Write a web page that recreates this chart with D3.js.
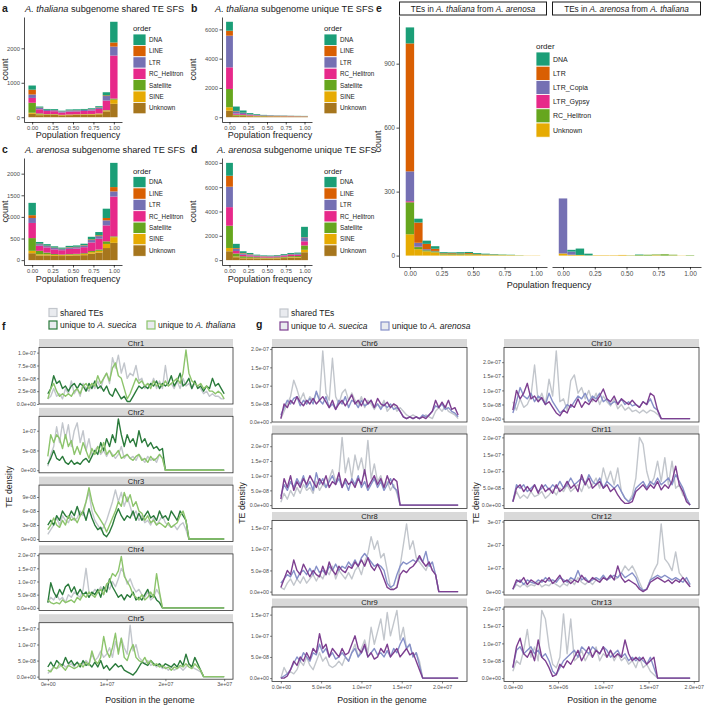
<!DOCTYPE html>
<meta charset="utf-8">
<title>TE site frequency spectra and TE density</title>
<style>
body { margin: 0; background: #fff; }
svg { display: block; }
text { font-family: "Liberation Sans", Arial, Helvetica, sans-serif; }
.axis path, .axis line { stroke: #000; stroke-width: 0.7px; }
.axis text { fill: #4d4d4d; }
.faxis path { display: none; }
.faxis line { stroke: #333; stroke-width: 0.6px; }
.faxis text { fill: #4d4d4d; }
</style>
<svg width="705" height="705"></svg>
<script src="https://d3js.org/d3.v7.min.js"></script>
<script>
// ---------- panels a-d : SFS histograms ----------
var sfsOrders = ["DNA", "LINE", "LTR", "RC_Helitron", "Satellite", "SINE", "Unknown"];
var sfsColors = ["#1b9e77", "#d95f02", "#7570b3", "#e7298a", "#66a61e", "#e6ab02", "#a6761d"];
var sfsBins = [0, 0.091, 0.182, 0.273, 0.364, 0.455, 0.545, 0.636, 0.727, 0.818, 0.909, 1];
var freqTicks = [0, 0.25, 0.5, 0.75, 1];

// rows = frequency bins, columns = sfsOrders
var thalShared = [
  [120, 140, 100, 140, 290, 30, 100],
  [30, 10, 40, 120, 30, 20, 60],
  [25, 5, 30, 90, 10, 15, 65],
  [25, 5, 30, 85, 10, 15, 65],
  [20, 5, 25, 70, 5, 10, 55],
  [25, 5, 30, 85, 5, 15, 60],
  [25, 5, 30, 85, 5, 15, 65],
  [25, 5, 30, 90, 5, 15, 70],
  [25, 5, 35, 100, 5, 15, 75],
  [30, 10, 40, 130, 5, 20, 85],
  [90, 20, 130, 280, 10, 25, 170],
  [600, 120, 260, 1250, 30, 120, 390]
];
var thalUnique = [
  [610, 340, 2160, 1480, 1250, 230, 450],
  [300, 30, 150, 80, 60, 30, 80],
  [150, 20, 80, 60, 40, 30, 80],
  [80, 10, 40, 40, 20, 20, 70],
  [50, 10, 30, 30, 10, 20, 60],
  [30, 5, 20, 20, 10, 15, 60],
  [20, 5, 20, 20, 5, 15, 55],
  [15, 5, 15, 15, 5, 15, 55],
  [15, 5, 15, 15, 5, 15, 50],
  [10, 5, 10, 15, 5, 10, 50],
  [10, 5, 10, 10, 5, 10, 45],
  [10, 5, 10, 10, 5, 10, 40]
];
var areShared = [
  [285, 65, 115, 350, 295, 55, 160],
  [40, 10, 35, 120, 80, 25, 110],
  [35, 10, 30, 120, 40, 25, 110],
  [30, 10, 30, 110, 20, 20, 100],
  [25, 10, 25, 100, 15, 20, 95],
  [30, 10, 30, 120, 15, 20, 105],
  [30, 10, 30, 125, 15, 20, 110],
  [35, 10, 35, 140, 20, 25, 115],
  [60, 15, 55, 200, 25, 35, 150],
  [75, 20, 60, 250, 30, 40, 175],
  [215, 55, 115, 370, 60, 95, 280],
  [560, 100, 120, 920, 20, 130, 400]
];
var areUnique = [
  [1060, 900, 1680, 1530, 1830, 270, 730],
  [350, 60, 180, 200, 250, 60, 240],
  [150, 40, 100, 120, 130, 40, 150],
  [100, 30, 70, 100, 100, 40, 150],
  [60, 20, 50, 80, 70, 30, 140],
  [50, 20, 40, 70, 50, 30, 130],
  [50, 15, 40, 70, 50, 30, 125],
  [55, 15, 45, 75, 55, 35, 140],
  [65, 20, 50, 90, 65, 40, 170],
  [80, 25, 60, 100, 80, 45, 200],
  [90, 25, 65, 105, 80, 45, 210],
  [840, 20, 330, 340, 360, 200, 650]
];

// ---------- panel e ----------
var eOrders = ["DNA", "LTR", "LTR_Copia", "LTR_Gypsy", "RC_Helitron", "Unknown"];
var eColors = ["#1b9e77", "#d95f02", "#7570b3", "#e7298a", "#66a61e", "#e6ab02"];
var eBins = [0, 0.067, 0.133, 0.2, 0.267, 0.333, 0.4, 0.467, 0.533, 0.6, 0.667, 0.733, 0.8, 0.867, 0.933, 1];
var eTicks = [0, 300, 600, 900];
var eThalFromAre = [
  [75, 600, 140, 5, 150, 100],
  [18, 95, 18, 2, 10, 30],
  [15, 25, 5, 0, 5, 20],
  [12, 10, 2, 0, 5, 15],
  [5, 3, 0, 0, 3, 5],
  [4, 4, 0, 0, 3, 4],
  [6, 3, 0, 0, 3, 4],
  [5, 4, 0, 0, 3, 5],
  [4, 2, 0, 0, 3, 3],
  [3, 1, 0, 0, 2, 3],
  [2, 1, 0, 0, 2, 2],
  [1, 0, 0, 0, 2, 2],
  [1, 0, 0, 0, 1, 2],
  [0, 0, 0, 0, 1, 1],
  [0, 0, 0, 0, 0, 1],
  [0, 0, 0, 0, 0, 1]
];
var eAreFromThal = [
  [0, 0, 258, 0, 0, 10],
  [8, 0, 15, 0, 0, 4],
  [30, 0, 0, 0, 0, 3],
  [8, 0, 0, 0, 0, 1],
  [0, 0, 0, 0, 0, 2],
  [0, 0, 0, 0, 0, 2],
  [0, 0, 0, 0, 0, 2],
  [0, 0, 0, 0, 0, 3],
  [0, 0, 0, 0, 1, 1],
  [2, 0, 0, 0, 3, 0],
  [0, 0, 0, 0, 4, 0],
  [0, 0, 0, 0, 3, 2],
  [0, 0, 0, 0, 6, 0],
  [0, 0, 0, 0, 3, 1],
  [0, 0, 0, 0, 0, 1],
  [0, 0, 0, 0, 2, 0]
];

// ---------- panels f, g : TE density (units of 1e-8), [shared, unique A. suecica, unique other] ----------
var fStep = 5e5, gStep = 4e5;
var fChroms = ["Chr1", "Chr2", "Chr3", "Chr4", "Chr5"];
var g1Chroms = ["Chr6", "Chr7", "Chr8", "Chr9"];
var g2Chroms = ["Chr10", "Chr11", "Chr12", "Chr13"];

var chr1 = [
  [1,1.5,3,1.5,2,1,3,2,4.5,2, 3,1.5,4,3,2.5,4,3,4.5,3,5, 6,4,9,7,9.5,6,8,5,6,5.5, 7.5,4.5,5,3,4,3.5,5,3,4.5,3, 7.5,3.5,4,3,4.5,3,5,3.5,4,3, 4,3.5,3,2,2.5,1.5,2,1.5,1.5,1, 1],
  [2,3,5.5,4,4.5,3,3.5,2.5,3.5,4, 3,4,3.5,2.5,4,3,4.5,3,3.5,2.5, 3.5,2,1.5,3,2,1,1.5,0.5,0.5,1.5, 2.5,3.5,3,3.5,3,4,3.5,4.5,3,4, 3.5,4,5.5,3.5,4.5,6,3.5,4,5,3, 4.5,3,3.5,2.5,3.5,3,5,3.5,4,3, 2],
  [1,3,4,2.5,1.5,2,1.5,2,1.5,2.5, 3,2,3.5,4,3,4,3.5,5.5,4,5, 6,4.5,7,8,5.5,5,3,1,2,3.5, 5,4,4.5,3.5,4,3,4.5,3.5,4,3.5, 4.5,3.5,4,4.5,5,4,6,10.5,6,4.5, 4,3.5,4,3,3.5,2.5,2.5,2,2.5,2, 1]
];
var chr2 = [
  [1,4,6,11,7,12,8,11.5,6,10, 12,7,10,5,8,4,5,6,4,5, 3.5,5,4,3,4,6,3,4,3,3.5, 2.5,4,3,2,3.5,2.5,3,2,4,3, 0,0,0,0,0,0,0,0,0,0, 0,0,0,0,0,0,0,0,0,0, 0],
  [1.5,3,5,3,2.5,3.5,2,1.5,2.5,1.5, 2,1.5,2.5,3,2,3.5,5,4,7,5, 8,6,9,7,13,9,6,9,7,8, 6,10,7,8,6,7,5.5,6,5,5.5, 0,0,0,0,0,0,0,0,0,0, 0,0,0,0,0,0,0,0,0,0, 0],
  [3.5,9,7,9,8,5.5,9,6,7.5,4, 6,4,7,5,3,5.5,4,6,4.5,7, 4,5,3.5,4,5,3,3.5,4,3,2.5, 3.5,4,2.5,3,2,3.5,2.5,3,4,3, 0,0,0,0,0,0,0,0,0,0, 0,0,0,0,0,0,0,0,0,0, 0]
];
var chr3 = [
  [1,2,3,4.5,3,5,4,3.5,5,4, 4.5,6,5,8,10,6,4,3,2,2.5, 4,6,8,10.5,8,10,7,9,7,5, 6,4,5,3.5,4,3,4.5,3,4,5, 3.5,3,2.5,3,2,3,3.5,2, 0,0,0,0,0,0,0,0,0,0,0,0,0],
  [3,4,3,5,4,6,5,4.5,6,5, 7,5,6,4,6.5,4.5,3,2,2.5,1, 0.5,1.5,3,5,6.5,5,4,5,4.5,6, 4,5.5,4,5,6,4.5,5,4,6,4.5, 5,4,6,5,4,6,5,4, 0,0,0,0,0,0,0,0,0,0,0,0,0],
  [2,3,4.5,3,2.5,4,3,5,4,4.5, 3.5,5,6,8,11,8,6,5,4,3, 1.5,3,4.5,6,8,7,10,8,9.5,7, 8,6,5.5,4,5,3.5,4,3,3.5,3, 2.5,3.5,2.5,3,3.5,5,6,4, 0,0,0,0,0,0,0,0,0,0,0,0,0]
];
var chr4 = [
  [2,4,3,5,3,4,2,5,4,6, 5,4,7,15,6,5,7,6,8,5, 9,7,10,8,11,15,13,9,11,8, 6,7,5,4,6,3,4,7,5, 0,0,0,0,0,0,0,0,0,0,0, 0,0,0,0,0,0,0,0,0,0,0],
  [2,9.5,6,4,7,5,8,9,6,8, 5,7,5,6,4,6,5,7,4,8, 6,11,8,6,4,5,3,5,4,6, 3,4,3,5,7,4,5,3,2, 0,0,0,0,0,0,0,0,0,0,0, 0,0,0,0,0,0,0,0,0,0,0],
  [3,2,1.5,2,1.5,3,2,2.5,3,2, 4,3,5,4,6,5,4,6,7,5, 9,10,13,12,14,19.5,12,10,8,5, 4,3,5,3,4,6,4,13,6, 0,0,0,0,0,0,0,0,0,0,0, 0,0,0,0,0,0,0,0,0,0,0]
];
var chr5 = [
  [1,2,3,2.5,3,4,3,3.5,4,3, 4.5,3.5,4,5,4,7,5,6,8,6, 7,9,6,11,8,12,9,7,16,8, 10,6,5,4,5,3.5,4,3,3.5,2.5, 3,2,3,2,2.5,3,2,3,4,3, 2.5,2,1.5, 0,0,0,0,0,0,0,0],
  [3,4.5,3,5,4,3.5,6,4,5,3.5, 4.5,3,5,3.5,4,3,4.5,3,5,2.5, 3.5,2,3,4,3,3.5,2,1.5,1,0.5, 1.5,3,4.5,4,3.5,5,4,3.5,4,3, 4,3.5,3,4,3,5,3.5,7,4,3, 6,4,2, 0,0,0,0,0,0,0,0],
  [2,1.5,3,2.5,4,3,2,3.5,3,2.5, 3,4,3,4.5,3.5,8,5,4,6,12.5, 8,6,9,13.5,7,12,6,5,8,10, 6,5,4.5,6,4,5,3.5,4,3,3.5, 2.5,3,2,3,2.5,3.5,3,4,3,2.5, 4,3,2, 0,0,0,0,0,0,0,0]
];
var chr6 = [
  [1,3,5,7,11.5,9,6,8,5,7, 6,8,6,19.5,8,6,17.5,7,5,8, 9,6,8,6,5,7,4,6,5,3.5, 5,4,6,3,4,5,3,4,3,2, 1.5,2,1.5,1,1.5,2,1.5,1,3,4, 3,4.5,3,2.5,2,1],
  [1,5,4,6,5,7,5.5,4.5,6,5, 6.5,5,6,7,5.5,4,6,3.5,5,6, 4.5,6,7.5,5,6,4.5,6.5,5,6,4, 6.5,5,4.5,5.5,4,5,4.5,3,1.5,1, 1.5,1,1.5,1,1.5,1,2,3,6,4, 5.5,4,6,3.5,4,2],
  [2,4,6,5,6.5,7,4.5,6,5,6.5, 5,8.5,6,5,7,4,5,3.5,6,5, 7,4,6,5.5,4,6,4.5,5,6,4, 5,3.5,5,4,5,3.5,4,3,1.5,1, 1.5,1,1.5,1,2,1.5,2,3,4.5,4, 5,3.5,4,3,2.5,1.5]
];
var chr7 = [
  [1,4,2,5,3,6,4,7,5,6, 4,8,5,7,6,9,12,8,10,23, 11,16,9,17,12,16,10,22,9,14, 8,10,6,8,5,7,4, 0,0,0,0,0,0,0,0,0,0, 0,0,0,0,0,0,0,0,0],
  [2,9,6,10,5,8,6,9,7,10, 8,6,9,7,10,6,8,7,11,6, 9,7,8,6,9,7,12,6,8,10, 7,9,6,10,7,9,8, 0,0,0,0,0,0,0,0,0,0, 0,0,0,0,0,0,0,0,0],
  [3,7,5,8,6,9,7,10,6,8, 5,11,7,9,6,8,10,7,9,6, 8,5,9,7,10,6,8,5,7,9, 6,8,5,7,9,6,5, 0,0,0,0,0,0,0,0,0,0, 0,0,0,0,0,0,0,0,0]
];
var chr8 = [
  [1,0.5,2,3,1.5,3,2,3.5,2,3, 4,2.5,4,3,5,4,6,3,5,4, 3,4.5,3,5,6,4,7,9,13,10, 12,8,9,5,1,0.5,1,6,11,16, 10,12,8,7,6,5,7,5,4, 0,0,0,0,0,0,0],
  [1,3,5,4,7.5,5,4,6.5,5,3.5, 5,4,3.5,6,4,7,5,4,6,5, 4.5,6,5.5,7,6,7.5,6,8,6,5, 6.5,5,3,1,0.5,0.5,1,4,5,4.5, 5.5,6,7,8.5,7,6,7,5,4, 0,0,0,0,0,0,0],
  [2,3,4,3.5,5,3,4.5,5,4,5.5, 4,6,4.5,5,4,6,5,6.5,5,6, 5.5,7,6,7.5,6,8,9,8,7,6, 6.5,6,5,2,1,1.5,4,6,7,6.5, 7,7.5,7,8,7,9.5,6,7,4, 0,0,0,0,0,0,0]
];
var chr9 = [
  [0,2.5,1,1.5,1,2,4,3,5,3, 2,4,6,4,5,3,2.5,3,4,3, 5,4,6,8,5,7,9,6,12,8, 11,14,9,15.5,10,13,16,9,12,7, 8,5,6,4, 0,0,0,0,0,0,0,0,0,0,0,0],
  [0,0,0.5,2,4,3,5,4,6,4.5, 7,6,10.5,7,8,5,7,6,5,7, 5.5,6,8,10,7,6,8,5,6,4.5, 5,7,6,8,5,6,7,5,6,7, 5.5,6,4,2, 0,0,0,0,0,0,0,0,0,0,0,0],
  [0,0.5,1,2,3.5,5,4,6,5,4, 6,5.5,8,6,7,5,6,4.5,5,6, 5,4,6,7,5,6,7.5,5,6,7, 5.5,6,5,6.5,5,7,6,8,9.5,7, 8,5,6,3, 0,0,0,0,0,0,0,0,0,0,0,0]
];
var chr10 = [
  [6,3,7,4,5,8,19,6,9,5, 14,8,24,6,7,3,13.5,15.5,9,11, 7,10,6,9,5,8,6,4.5,7,3.5, 5,3,4,2.5,3,2,3,2,3,2.5, 1.5, 0,0,0,0,0,0,0,0,0],
  [3,10,7,9,12.5,7,8,6,7.5,5, 6,4,2,1,3,2,5,4,7,4, 6,5,7,6,8,10.5,7,6,8,5, 7,6,5,6.5,5,4,6,5,9,8, 3, 0,0,0,0,0,0,0,0,0],
  [2,6,11,8,7,9,6,8,7,5, 9,6,4,2,3,5,4,6,8,7, 9,6,8,7,9,6,7,5,6,5.5, 7,5,6,4.5,5,4,6,5,7,4, 3, 0,0,0,0,0,0,0,0,0]
];
var chr11 = [
  [1,4,2,3,2,4,2.5,3,4,2, 3,4.5,3,5,4,6,4,5,6,4, 7,5,6,8,5,11,7,10,6,11, 4,2,1,3,8,20,18,10,6,8, 13,7,14,6,13,5,6,3,2, 0],
  [1,5,6,4,5.5,4,6,3.5,6,4, 5,3.5,6,4,5,7,5,6,4,9, 6,8,5,6,7,5,6,4,5,3, 1.5,0.5,0.5,1,4,5,6,4.5,6,5, 7,4.5,6,5,7,11.5,6,4,1, 0],
  [1,6,5,6,4,5,6,4,5,6, 4.5,6,5,7,5,6,8,6,7,8, 6,9,7,6,8,5,7,6,5,6, 4,2,1,2,5,6,7,5,7,6, 8,6,7,8,6,9,7,5,2, 0]
];
var chr12 = [
  [1,3,2,3.5,2,3,2.5,4,2,3, 2.5,4,3,2,3.5,2.5,5,3,6,4, 3,4.5,3,5,4,6,5,7,5,6, 8,11,9,11,8,4,0.5,1,5,9, 12,29,14,12,9,17,8,6,4,2],
  [1,5,4,6,3,5,4,3,5,4, 6,3.5,5,7,4,5,3.5,5,4,7, 5,4,6,5,4,6,5,7,5,11, 6,4,5,4,3,1,0,1,4,5, 6,5,4,5,3.5,5,4,6,4,2],
  [1,4,5,3,5,4,3.5,5,4,6, 4.5,5,4,6,5,4,6,5,9,5, 6,4,5,6,5,7,5,6,7,6, 8,6,7,8,6,2,0.5,1,5,6, 7,6,7,6,5,6,5,4,6,3]
];
var chr13 = [
  [2,5,4,8,14,6,9,5,19.5,17, 9,4,3,6,18.5,7,17,5,6,8, 5,7,6,9,5,7,6,8,5,7, 5,6,4,5,3,6,3,4,2,1, 0,0,0,0,0,0,0,0,0,0],
  [3,9,11.5,7,6,8,5,11,6,5, 3,0.5,1,4,3,5,4,6,8,5, 7,9,6,8,7,9,6,8,6,7, 6,11,7,5,6,5,6,4,5,6, 0,0,0,0,0,0,0,0,0,0],
  [3,8,9,7,8,9,7,8,6,7, 5,2,1,3,5,6,7,8,6,9, 8,7,9,8,7,9,8,6,7,8, 6,7,5,6,5,6,5,4,6,3, 0,0,0,0,0,0,0,0,0,0]
];

var fYTicks = [[0, 2.5e-8, 5e-8, 7.5e-8, 1e-7], [0, 5e-8, 1e-7], [0, 3e-8, 6e-8, 9e-8],
               [0, 5e-8, 1e-7, 1.5e-7, 2e-7], [0, 5e-8, 1e-7, 1.5e-7]];
var g1YTicks = [[0, 5e-8, 1e-7, 1.5e-7, 2e-7], [0, 5e-8, 1e-7, 1.5e-7, 2e-7],
                [0, 5e-8, 1e-7, 1.5e-7], [0, 5e-8, 1e-7, 1.5e-7]];
var g2YTicks = [[0, 5e-8, 1e-7, 1.5e-7, 2e-7], [0, 5e-8, 1e-7, 1.5e-7, 2e-7],
                [0, 1e-7, 2e-7, 3e-7], [0, 5e-8, 1e-7, 1.5e-7, 2e-7]];
var fXTicks = [0, 1e7, 2e7, 3e7];
var gXTicks = [0, 5e6, 1e7, 1.5e7, 2e7];

var fColors = ["#c2c6cc", "#2a7a3b", "#8cc46b"];
var gColors = ["#c2c6cc", "#7d3f90", "#8690c8"];

var svg = d3.select("svg");

// R-like scientific labels: same number of digits for every tick
function sciLabels(vals) {
  var d = 0;
  while (d < 4 && !vals.every(function(v) { return Math.abs(+v.toExponential(d) - v) <= Math.abs(v) * 1e-9; })) d++;
  return vals.map(function(v) {
    var m = v.toExponential(d).split("e");
    var e = +m[1];
    return m[0] + "e" + (e < 0 ? "-" : "+") + String(Math.abs(e)).padStart(2, "0");
  });
}

function rich(x, y, parts, size, anchor) {
  var t = svg.append("text").attr("x", x).attr("y", y)
      .attr("font-size", size).attr("fill", "#1a1a1a")
      .attr("text-anchor", anchor || "start");
  parts.forEach(function(p) {
    t.append("tspan").text(p[0]).attr("font-style", p[1] ? "italic" : null);
  });
  return t;
}

function label(x, y, s, size, opts) {
  opts = opts || {};
  var t = svg.append("text").attr("x", x).attr("y", y).attr("font-size", size)
      .attr("fill", opts.fill || "#1a1a1a").attr("text-anchor", opts.anchor || "start")
      .attr("font-weight", opts.bold ? "bold" : null).text(s);
  if (opts.rotate) t.attr("transform", "rotate(-90," + x + "," + y + ")");
  return t;
}

// stacked histogram panel
function sfsPanel(p, rows, bins, colors, yMax) {
  var n = bins.length, bw = (bins[n - 1] - bins[0]) / (n - 1);
  var lo = bins[0] - bw / 2, hi = bins[n - 1] + bw / 2, pad = (hi - lo) * 0.05;
  var x = d3.scaleLinear().domain([lo - pad, hi + pad]).range([p.x0, p.x1]);
  var tot = yMax || d3.max(rows, function(r) { return d3.sum(r); });
  var y = d3.scaleLinear().domain([-tot * 0.05, tot * 1.05]).range([p.y1, p.y0]);

  var keys = d3.range(colors.length).reverse();   // first order drawn on top
  var series = d3.stack().keys(keys).value(function(d, k) { return d[k]; })(rows);

  svg.append("g").selectAll("g").data(series).join("g")
      .attr("fill", function(s) { return colors[s.key]; })
    .selectAll("rect").data(function(s) { return s; }).join("rect")
      .attr("x", function(d, i) { return x(bins[i] - bw / 2); })
      .attr("width", x(bw) - x(0))
      .attr("y", function(d) { return y(d[1]); })
      .attr("height", function(d) { return Math.max(0, y(d[0]) - y(d[1])); });

  return { x: x, y: y };
}

function sfsAxes(p, sc, yTicks, fs, noY) {
  if (!noY) {
    svg.append("g").attr("class", "axis").attr("transform", "translate(" + p.x0 + ",0)")
        .call(d3.axisLeft(sc.y).tickValues(yTicks).tickFormat(d3.format("d"))
          .tickSize(2.5).tickPadding(1.5).tickSizeOuter(0))
        .selectAll("text").attr("font-size", fs);
  }
  svg.append("g").attr("class", "axis").attr("transform", "translate(0," + p.y1 + ")")
      .call(d3.axisBottom(sc.x).tickValues(freqTicks).tickFormat(d3.format(".2f"))
        .tickSize(2.5).tickPadding(1.5).tickSizeOuter(0))
      .selectAll("text").attr("font-size", fs);
}

function sfsLegend(x, yBase, orders, colors, kw, kh, titleSize, fs) {
  label(x, yBase, "order", titleSize);
  orders.forEach(function(o, i) {
    var ky = yBase + 3 + i * kh;
    svg.append("rect").attr("x", x).attr("y", ky).attr("width", kw).attr("height", kh)
        .attr("fill", colors[i]).attr("stroke", "#fff").attr("stroke-width", 0.8);
    label(x + kw + 3, ky + kh / 2 + fs * 0.36, o, fs);
  });
}

// ----- a -----
var pa = { x0: 24, x1: 122, y0: 17, y1: 122 };
var sa = sfsPanel(pa, thalShared, sfsBins, sfsColors);
sfsAxes(pa, sa, [0, 1000, 2000], 5.8);
label(2, 12, "a", 10.5, { bold: true });
rich(25, 12, [["A. thaliana", true], [" subgenome shared TE SFS", false]], 9.2);
label(8, (pa.y0 + pa.y1) / 2, "count", 9, { anchor: "middle", rotate: true });
label(78, 138, "Population frequency", 9, { anchor: "middle" });
sfsLegend(133, 31, sfsOrders, sfsColors, 13, 11.4, 7.8, 6.3);

// ----- b -----
var pb = { x0: 222, x1: 312, y0: 17, y1: 122 };
var sb = sfsPanel(pb, thalUnique, sfsBins, sfsColors);
sfsAxes(pb, sb, [0, 2000, 4000, 6000], 5.8);
label(191, 12, "b", 10.5, { bold: true });
rich(215, 12, [["A. thaliana", true], [" subgenome unique TE SFS", false]], 9.2);
label(196, (pb.y0 + pb.y1) / 2, "count", 9, { anchor: "middle", rotate: true });
label(270, 138, "Population frequency", 9, { anchor: "middle" });
sfsLegend(324, 31, sfsOrders, sfsColors, 13, 11.4, 7.8, 6.3);

// ----- c -----
var pc = { x0: 24, x1: 122, y0: 158, y1: 265 };
var sc = sfsPanel(pc, areShared, sfsBins, sfsColors);
sfsAxes(pc, sc, [0, 500, 1000, 1500, 2000], 5.8);
label(2, 153, "c", 10.5, { bold: true });
rich(25, 153, [["A. arenosa", true], [" subgenome shared TE SFS", false]], 9.2);
label(8, (pc.y0 + pc.y1) / 2, "count", 9, { anchor: "middle", rotate: true });
label(78, 282, "Population frequency", 9, { anchor: "middle" });
sfsLegend(133, 173.5, sfsOrders, sfsColors, 13, 11.4, 7.8, 6.3);

// ----- d -----
var pd = { x0: 222, x1: 312, y0: 158, y1: 265 };
var sd = sfsPanel(pd, areUnique, sfsBins, sfsColors);
sfsAxes(pd, sd, [0, 2000, 4000, 6000, 8000], 5.8);
label(191, 153, "d", 10.5, { bold: true });
rich(217, 153, [["A. arenosa", true], [" subgenome unique TE SFS", false]], 9.2);
label(196, (pd.y0 + pd.y1) / 2, "count", 9, { anchor: "middle", rotate: true });
label(270, 282, "Population frequency", 9, { anchor: "middle" });
sfsLegend(324, 173.5, sfsOrders, sfsColors, 13, 11.4, 7.8, 6.3);

// ----- e -----
var eMax = d3.max(eThalFromAre.concat(eAreFromThal), function(r) { return d3.sum(r); });
var pe1 = { x0: 399, x1: 547, y0: 16, y1: 267 };
var pe2 = { x0: 552, x1: 701, y0: 16, y1: 267 };
var se1 = sfsPanel(pe1, eThalFromAre, eBins, eColors, eMax);
var se2 = sfsPanel(pe2, eAreFromThal, eBins, eColors, eMax);
sfsAxes(pe1, se1, eTicks, 6.5);
sfsAxes(pe2, se2, eTicks, 6.5, true);
label(376, 12, "e", 10.5, { bold: true });
[[pe1, [["TEs in ", false], ["A. thaliana", true], [" from ", false], ["A. arenosa", true]]],
 [pe2, [["TEs in ", false], ["A. arenosa", true], [" from ", false], ["A. thaliana", true]]]].forEach(function(s) {
  svg.append("rect").attr("x", s[0].x0 + 0.5).attr("y", 2).attr("width", s[0].x1 - s[0].x0 - 1)
      .attr("height", 13).attr("fill", "#fff").attr("stroke", "#1a1a1a").attr("stroke-width", 1);
  rich((s[0].x0 + s[0].x1) / 2, 11.6, s[1], 8.2, "middle");
});
label(381, (pe1.y0 + pe1.y1) / 2, "count", 9, { anchor: "middle", rotate: true });
label(549, 288, "Population frequency", 9, { anchor: "middle" });
sfsLegend(536, 49, eOrders, eColors, 14, 14.2, 8, 7);

// ---------- f, g ----------
var stripH = 8.5;

function densityColumn(col, names, data, ticks, colors, order, step, xTicks) {
  var n = data[0][0].length, xMax = (n - 1) * step;
  var x = d3.scaleLinear().domain([-0.05 * xMax, 1.05 * xMax]).range([col.x0, col.x1]);
  names.forEach(function(name, k) {
    var top = col.top + k * col.pitch, pTop = top + stripH, pBot = pTop + col.panelH;
    svg.append("rect").attr("x", col.x0).attr("y", top).attr("width", col.x1 - col.x0)
        .attr("height", stripH).attr("fill", "#d9d9d9");
    label((col.x0 + col.x1) / 2, top + stripH - 1.6, name, 7.6, { anchor: "middle" });

    var ext = d3.extent(d3.merge(data[k])), r = ext[1] - ext[0];
    var y = d3.scaleLinear().domain([(ext[0] - 0.05 * r) * 1e-8, (ext[1] + 0.05 * r) * 1e-8])
        .range([pBot, pTop]);
    var line = d3.line()
        .x(function(d, i) { return x(i * step); })
        .y(function(d) { return y(d * 1e-8); });
    order.forEach(function(s) {
      svg.append("path").datum(data[k][s]).attr("d", line).attr("fill", "none")
          .attr("stroke", colors[s]).attr("stroke-width", 1.4).attr("stroke-linejoin", "round");
    });
    svg.append("rect").attr("x", col.x0).attr("y", pTop).attr("width", col.x1 - col.x0)
        .attr("height", col.panelH).attr("fill", "none").attr("stroke", "#333").attr("stroke-width", 0.8);

    var labs = sciLabels(ticks[k]);
    svg.append("g").attr("class", "faxis").attr("transform", "translate(" + col.x0 + ",0)")
        .call(d3.axisLeft(y).tickValues(ticks[k]).tickSize(2).tickPadding(1)
          .tickFormat(function(d, i) { return labs[i]; }))
        .selectAll("text").attr("font-size", 5.3);

    if (k === names.length - 1) {
      var xl = sciLabels(xTicks);
      svg.append("g").attr("class", "faxis").attr("transform", "translate(0," + pBot + ")")
          .call(d3.axisBottom(x).tickValues(xTicks).tickSize(2).tickPadding(1.5)
            .tickFormat(function(d, i) { return xl[i]; }))
          .selectAll("text").attr("font-size", 5.3);
    }
  });
}

var fCol = { x0: 39, x1: 233, top: 339, pitch: 68.8, panelH: 56.5 };
var g1Col = { x0: 272, x1: 467, top: 339, pitch: 86.5, panelH: 74.5 };
var g2Col = { x0: 504, x1: 699, top: 339, pitch: 86.5, panelH: 74.5 };

densityColumn(fCol, fChroms, [chr1, chr2, chr3, chr4, chr5], fYTicks, fColors, [0, 1, 2], fStep, fXTicks);
densityColumn(g1Col, g1Chroms, [chr6, chr7, chr8, chr9], g1YTicks, gColors, [0, 2, 1], gStep, gXTicks);
densityColumn(g2Col, g2Chroms, [chr10, chr11, chr12, chr13], g2YTicks, gColors, [0, 2, 1], gStep, gXTicks);

label(2, 330, "f", 10.5, { bold: true });
label(256, 328, "g", 10.5, { bold: true });
label(12, 487, "TE density", 8.8, { anchor: "middle", rotate: true });
label(245, 503, "TE density", 8.8, { anchor: "middle", rotate: true });
label(479, 503, "TE density", 8.8, { anchor: "middle", rotate: true });
label(150, 703, "Position in the genome", 8.8, { anchor: "middle" });
label(382, 703, "Position in the genome", 8.8, { anchor: "middle" });
label(612, 703, "Position in the genome", 8.8, { anchor: "middle" });

function lineKey(x, y, color, parts) {
  svg.append("rect").attr("x", x).attr("y", y).attr("width", 8).attr("height", 8)
      .attr("fill", "#e9ebef").attr("stroke", color).attr("stroke-width", 1.2);
  rich(x + 11, y + 7, parts, 8.5);
}
lineKey(49, 308.5, fColors[0], [["shared TEs", false]]);
lineKey(49, 321, fColors[1], [["unique to ", false], ["A. suecica", true]]);
lineKey(147, 321, fColors[2], [["unique to ", false], ["A. thaliana", true]]);
lineKey(280, 309, gColors[0], [["shared TEs", false]]);
lineKey(280, 322, gColors[1], [["unique to ", false], ["A. suecica", true]]);
lineKey(381, 322, gColors[2], [["unique to ", false], ["A. arenosa", true]]);
</script>
